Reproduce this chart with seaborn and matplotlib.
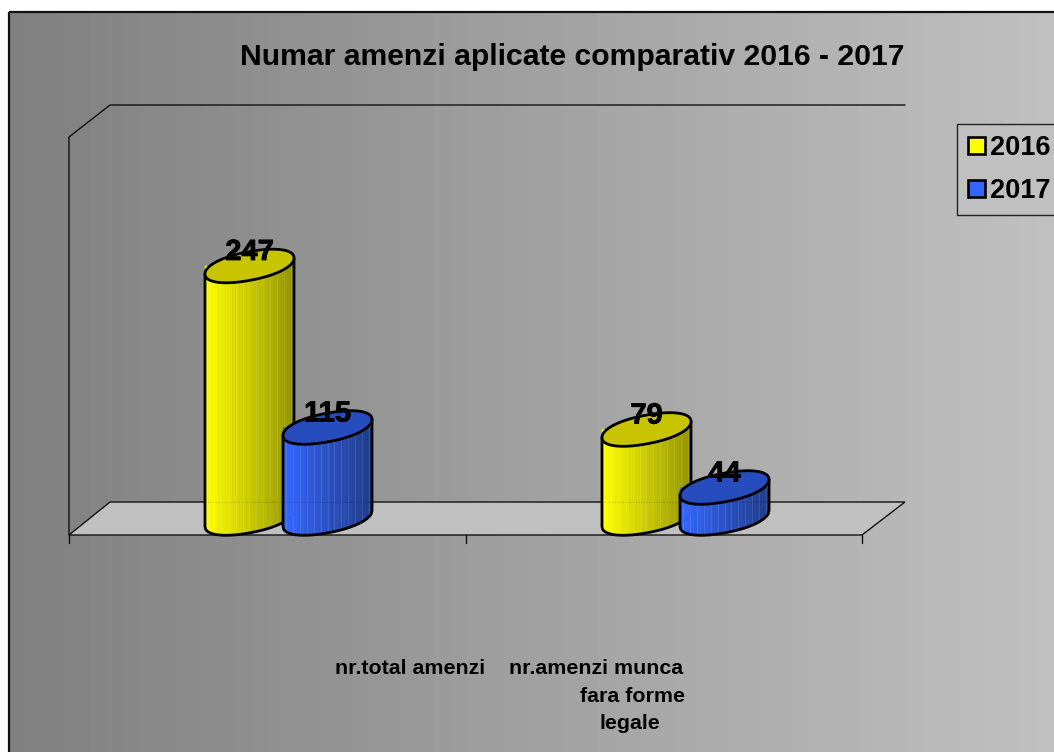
#!/usr/bin/env python3
import matplotlib
matplotlib.use('Agg')
import matplotlib.pyplot as plt
import matplotlib.patheffects as pe
from matplotlib.patches import Patch, Polygon
import numpy as np
import pandas as pd
import seaborn as sns

categorii = ['nr.total amenzi', 'nr.amenzi munca\nfara forme\nlegale']
ani = ['2016', '2017']
# valorile scrise pe grafic
etichete_2016 = [247, 79]
etichete_2017 = [115, 44]
# inaltimile desenate nu urmeaza etichetele, deci sunt citite separat din poza
inaltimi_2016 = [252.5, 89]
inaltimi_2017 = [91, 31]
culori = {'2016': '#FFFF00', '2017': '#3366FF'}
culori_capac = {'2016': '#C8C400', '2017': '#264CBE'}
culori_umbra = {'2016': '#969600', '2017': '#1E3C8C'}

W, H = 1054, 752

sns.set_theme(style='white')
plt.rcParams['font.family'] = ['Liberation Sans', 'DejaVu Sans']
plt.rcParams['text.color'] = 'black'

df = pd.DataFrame({
    'categorie': categorii * 2,
    'an': [ani[0]] * 2 + [ani[1]] * 2,
    'inaltime': inaltimi_2016 + inaltimi_2017,
})
etichete = etichete_2016 + etichete_2017

fig = plt.figure(figsize=(W / 100, H / 100), dpi=100, facecolor='white')

# fundal in coordonate de pixeli
bg = fig.add_axes([0, 0, 1, 1], zorder=0)
gradient = np.linspace(128, 192, 64).reshape(1, -1)
bg.imshow(gradient, cmap='gray', vmin=0, vmax=255, aspect='auto', extent=(9, W, H, 12))
bg.set_xlim(0, W)
bg.set_ylim(H, 0)
bg.axis('off')
bg.plot([9, 9], [H, 12], color='#111111', lw=1.6, solid_capstyle='butt')
bg.plot([9, W], [12, 12], color='#111111', lw=1.6, solid_capstyle='butt')

# podea si pereti
bg.add_patch(Polygon([(69, 535), (110, 502), (905, 502), (862, 535)], closed=True,
                     facecolor='#C0C0C0', edgecolor='#111111', lw=1.0))
bg.plot([69, 69, 110, 905], [535, 137, 105, 105], color='#111111', lw=1.0)
for x in [69, 465.5, 862]:
    bg.plot([x, x], [535, 543], color='#111111', lw=1.0)

# axa pentru bare: 1 unitate pe y = 1 pixel, baza la y=518.5
x0, x1, y_jos, y_sus = 90, 884, 518.5, 105
ax = fig.add_axes([x0 / W, 1 - y_jos / H, (x1 - x0) / W, (y_jos - y_sus) / H], zorder=1)
sns.barplot(data=df, x='categorie', y='inaltime', hue='an', palette=culori,
            width=0.393, legend=False, ax=ax)
ax.set_xlim(-0.5, 1.5)
ax.set_ylim(0, y_jos - y_sus)
ax.axis('off')


def cilindru(cx, y_baza, y_varf, an, z):
    a, k, c, p = 44.5, 8.0, 14.4, 0.93
    n = 26
    u = np.linspace(-a, a, n + 1)
    # elipsa putin mai plina, ca in original
    fata = lambda v: -k * v / a + c * np.clip(1 - np.abs(v / a) ** (2 / p), 0, 1) ** (p / 2)
    c1 = np.array(matplotlib.colors.to_rgb(culori[an]))
    c2 = np.array(matplotlib.colors.to_rgb(culori_umbra[an]))
    for i in range(n):
        f = i / (n - 1)
        bg.add_patch(Polygon([(cx + u[i], y_baza + fata(u[i])), (cx + u[i + 1], y_baza + fata(u[i + 1])),
                              (cx + u[i + 1], y_varf), (cx + u[i], y_varf)],
                             closed=True, facecolor=c1 + (c2 - c1) * f, edgecolor=c1 + (c2 - c1) * f,
                             lw=0.3, zorder=z))
    # cusaturile mai deschise dintre fasii
    for v in u[1:-1:2]:
        bg.plot([cx + v, cx + v], [y_varf, y_baza + fata(v)], color='white', alpha=0.13, lw=0.6, zorder=z)
    # podeaua se vede slab prin corp
    if y_varf < 502:
        bg.plot([cx - a, cx + a], [502, 502], color='black', alpha=0.2, lw=0.7, ls=':', zorder=z)

    t = np.linspace(0, 2 * np.pi, 240)
    ux = np.sign(np.cos(t)) * np.abs(np.cos(t)) ** p
    uy = np.sign(np.sin(t)) * np.abs(np.sin(t)) ** p
    bg.fill(cx + a * ux, y_varf - k * ux + c * uy, facecolor=culori_capac[an],
            edgecolor='black', lw=2.0, zorder=z + 0.2)
    # conturul corpului
    v = np.linspace(-a, a, 160)
    xs = np.r_[cx - a, cx + v, cx + a]
    ys = np.r_[y_varf + k, y_baza + fata(v), y_varf - k]
    bg.plot(xs, ys, color='black', lw=2.0, zorder=z + 0.1)


# barele seaborn dau pozitiile; cilindrii se deseneaza peste ele, in ordinea de la stanga la dreapta
inv = bg.transData.inverted()
bare = []
for b, an, et in zip(ax.patches, df['an'], etichete):
    bx = b.get_x() + b.get_width() / 2
    baza = inv.transform(ax.transData.transform((bx, 0)))
    varf = inv.transform(ax.transData.transform((bx, b.get_height())))
    bare.append((baza[0], baza[1], varf[1], an, et))
    b.set_visible(False)
bare.sort(key=lambda r: r[0])

for i, (cx, yb, yv, an, et) in enumerate(bare):
    cilindru(cx, yb, yv, an, 3 + i)
    bg.text(cx, yv - 14, str(et), ha='center', va='center', fontsize=21, fontweight='bold',
            color='black', zorder=20,
            path_effects=[pe.withStroke(linewidth=0.6, foreground='black')])

# titlu si etichete categorii
bg.text(572.5, 57, 'Numar amenzi aplicate comparativ 2016 - 2017', ha='center', va='center',
        fontsize=21.7, fontweight='bold', color='black', zorder=20)
linii = (categorii[0] + '\n' + categorii[1]).split('\n')
for linie, lx, ly in zip(linii, [410, 596.5, 632, 630], [669, 669, 696, 723.5]):
    bg.text(lx, ly, linie, ha='center', va='center', fontsize=15.4, fontweight='bold', zorder=20)

# legenda
handles = [Patch(facecolor=culori[a], edgecolor='black', lw=1.9, label=a) for a in ani]
leg = bg.legend(handles=handles, loc='upper left', bbox_to_anchor=(957, 124), bbox_transform=bg.transData,
                frameon=True, fancybox=False, framealpha=1, facecolor='#C0C0C0', edgecolor='#222222',
                prop={'size': 19.5, 'weight': 'bold'}, handlelength=0.62, handleheight=0.62,
                handletextpad=0.2, labelspacing=0.64, borderpad=0.4, borderaxespad=0)
leg.set_zorder(20)
leg.get_frame().set_linewidth(1.0)

fig.savefig('out.png', dpi=100, facecolor=fig.get_facecolor())
plt.close(fig)
